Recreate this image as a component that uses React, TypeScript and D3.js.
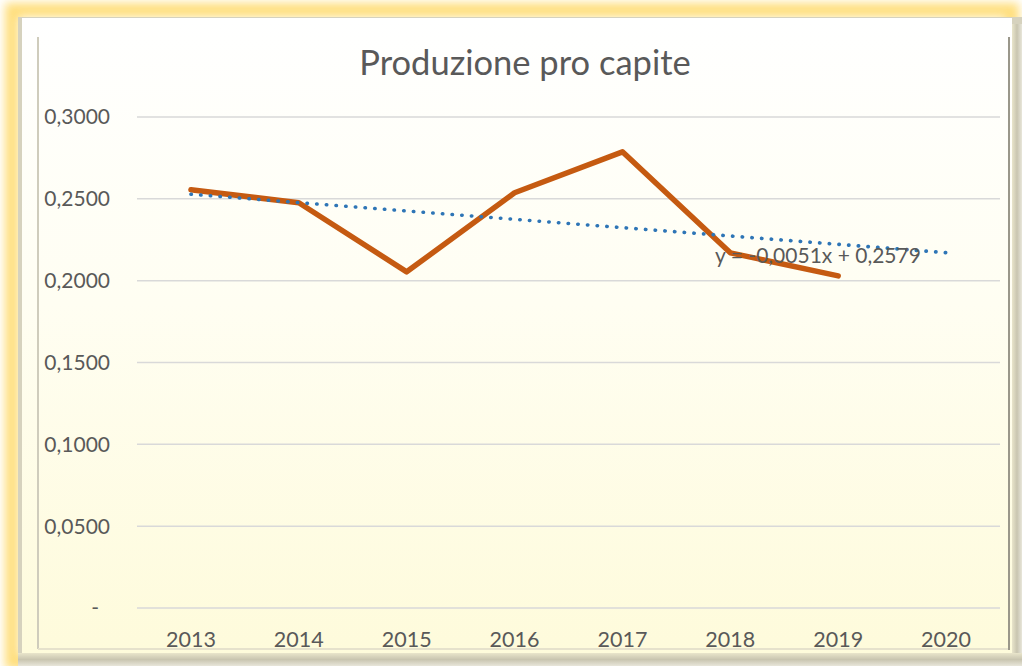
import React from 'react';
import * as d3 from 'd3';

const title = 'Produzione pro capite';
const years = ['2013', '2014', '2015', '2016', '2017', '2018', '2019', '2020'];
const values = [0.2555, 0.2476, 0.2054, 0.2537, 0.2787, 0.217, 0.2029];
const yTicks = [0, 0.05, 0.1, 0.15, 0.2, 0.25, 0.3];
const trendSlope = -0.0051;
const trendIntercept = 0.2579;
const trendLabel = 'y = -0,0051x + 0,2579';

const W = 1022;
const H = 666;
const plot = { left: 137, right: 1000, top: 117, bottom: 608 };
const FONT = 'Lato, "Open Sans", sans-serif';
const TEXT = '#595959';

export default function App() {
  const x = d3.scaleBand<string>().domain(years).range([plot.left, plot.right]).padding(0);
  const y = d3.scaleLinear().domain([0, 0.3]).range([plot.bottom, plot.top]);
  const cx = (yr: string) => (x(yr) as number) + x.bandwidth() / 2;
  const idx = d3.scaleLinear().domain([1, years.length]).range([cx(years[0]), cx(years[years.length - 1])]);

  const line = d3
    .line<number>()
    .x((_, i) => cx(years[i]))
    .y((d) => y(d));

  const trendPts: [number, number][] = [1, years.length].map((k) => [idx(k), y(trendSlope * k + trendIntercept)]);
  const trendPath = d3.line()(trendPts) as string;

  const fmt = (v: number) => (v === 0 ? '-' : d3.format('.4f')(v).replace('.', ','));

  return (
    <svg
      width={W}
      height={H}
      style={{ position: 'absolute', left: 0, top: 0, display: 'block' }}
      xmlns="http://www.w3.org/2000/svg"
    >
      <defs>
        <filter id="glow" x="-5%" y="-5%" width="110%" height="110%">
          <feGaussianBlur stdDeviation="5" />
        </filter>
        <linearGradient id="panel" x1="0" y1="0" x2="0" y2="1">
          <stop offset="0" stopColor="#FFFFFF" />
          <stop offset="0.45" stopColor="#FFFEF2" />
          <stop offset="1" stopColor="#FEFBDB" />
        </linearGradient>
        <linearGradient id="bevB" x1="0" y1="0" x2="0" y2="1">
          <stop offset="0" stopColor="#E9E5CB" />
          <stop offset="0.5" stopColor="#C9C5B0" />
          <stop offset="1" stopColor="#E8E6DA" />
        </linearGradient>
        <linearGradient id="bevR" x1="0" y1="0" x2="1" y2="0">
          <stop offset="0" stopColor="#E9E5CB" />
          <stop offset="0.5" stopColor="#C9C5B0" />
          <stop offset="1" stopColor="#E8E6DA" />
        </linearGradient>
      </defs>
      <rect x={0} y={0} width={W} height={H} fill="#FFFFFF" />
      <rect
        x={12}
        y={10}
        width={1000}
        height={652}
        fill="none"
        stroke="#FFD966"
        strokeWidth={14}
        filter="url(#glow)"
        opacity={0.85}
      />
      {/* bevel */}
      <rect x={18} y={17} width={1004} height={649} fill="#D6D2BE" />
      <rect x={1012} y={24} width={10} height={642} fill="url(#bevR)" />
      <rect x={18} y={653} width={1004} height={13} fill="url(#bevB)" />
      <rect x={22} y={18} width={990} height={635} fill="url(#panel)" />
      {/* inner frame */}
      <line x1={38} y1={37} x2={38} y2={649} stroke="#CFCCBC" strokeWidth={2} />
      <line x1={38} y1={649} x2={1009} y2={649} stroke="#E6E2CC" strokeWidth={2} />
      <line x1={1009} y1={37} x2={1009} y2={650} stroke="#9A978A" strokeWidth={2} />

      {/* title */}
      <text x={525} y={75} textAnchor="middle" fontFamily={FONT} fontSize={34.5} fill={TEXT}>
        {title}
      </text>

      {/* gridlines + y labels */}
      {yTicks.map((t) => (
        <g key={t}>
          <line x1={plot.left} x2={plot.right} y1={y(t)} y2={y(t)} stroke="#D9D9D9" strokeWidth={1.5} />
          <text
            x={t === 0 ? 99 : 110}
            y={y(t)}
            dy="0.35em"
            textAnchor="end"
            fontFamily={FONT}
            fontSize={21}
            fill={TEXT}
          >
            {fmt(t)}
          </text>
        </g>
      ))}

      {/* x labels */}
      {years.map((yr) => (
        <text key={yr} x={cx(yr)} y={647} textAnchor="middle" fontFamily={FONT} fontSize={21.5} fill={TEXT}>
          {yr}
        </text>
      ))}

      {/* series */}
      <path
        d={line(values) as string}
        fill="none"
        stroke="#C55A11"
        strokeWidth={5.5}
        strokeLinejoin="round"
        strokeLinecap="round"
      />
      {/* trendline */}
      <path
        d={trendPath}
        fill="none"
        stroke="#2E75B6"
        strokeWidth={3.6}
        strokeDasharray="0.4 9.3"
        strokeLinecap="round"
      />
      <text x={818} y={263} textAnchor="middle" fontFamily={FONT} fontSize={21} fill={TEXT}>
        {trendLabel}
      </text>
    </svg>
  );
}
